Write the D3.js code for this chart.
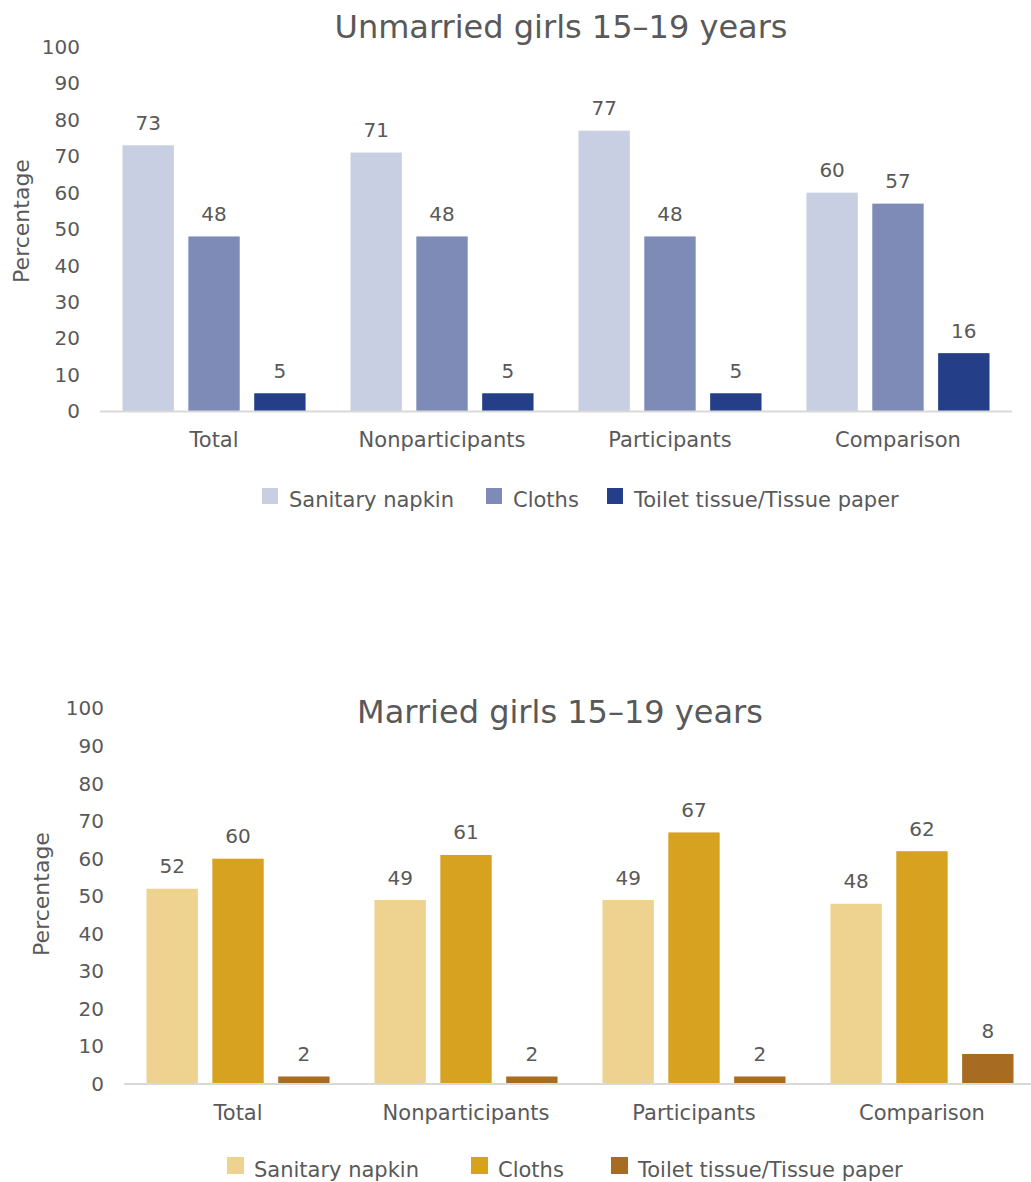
<!DOCTYPE html>
<html>
<head>
<meta charset="utf-8">
<script src="https://cdn.jsdelivr.net/npm/d3@7"></script>
<style>
  html, body { margin: 0; padding: 0; background: #ffffff; }
  svg { display: block; }
  text { font-family: "DejaVu Sans", "Noto Sans", sans-serif; fill: #595959; }
</style>
</head>
<body>
<svg id="chart" width="1031" height="1182"></svg>
<script>
// Menstrual absorbent used, by group (percent)
const categories = ["Total", "Nonparticipants", "Participants", "Comparison"];
const seriesNames = ["Sanitary napkin", "Cloths", "Toilet tissue/Tissue paper"];

const unmarriedNapkin = [73, 71, 77, 60];
const unmarriedCloths = [48, 48, 48, 57];
const unmarriedTissue = [5, 5, 5, 16];

const marriedNapkin = [52, 49, 49, 48];
const marriedCloths = [60, 61, 67, 62];
const marriedTissue = [2, 2, 2, 8];

const yTicks = [0, 10, 20, 30, 40, 50, 60, 70, 80, 90, 100];

const unmarriedColors = ["#c8cfe2", "#7d8bb6", "#243f88"];
const marriedColors = ["#edd290", "#d6a220", "#a76c21"];

const panels = [
  {
    title: "Unmarried girls 15\u201319 years",
    series: [unmarriedNapkin, unmarriedCloths, unmarriedTissue],
    colors: unmarriedColors,
    xRange: [100, 1012], yRange: [411.5, 46.8],
    titleX: 561, titleY: 38,
    yTitleX: 21, yTitleY: 221,
    legendTop: 488, legendX: [262, 486, 607], legendSize: 16
  },
  {
    title: "Married girls 15\u201319 years",
    series: [marriedNapkin, marriedCloths, marriedTissue],
    colors: marriedColors,
    xRange: [124, 1036], yRange: [1084, 708.5],
    titleX: 560, titleY: 723,
    yTitleX: 41, yTitleY: 894,
    legendTop: 1157, legendX: [227, 471, 611], legendSize: 17
  }
];

const svg = d3.select("#chart");

panels.forEach(p => {
  const g = svg.append("g");

  const x0 = d3.scaleBand()
    .domain(categories)
    .range(p.xRange)
    .paddingInner(0.197)
    .paddingOuter(0.0987);

  const x1 = d3.scaleBand()
    .domain(seriesNames)
    .range([0, x0.bandwidth()])
    .paddingInner(0.22);

  const y = d3.scaleLinear().domain([0, 100]).range(p.yRange);

  const color = d3.scaleOrdinal().domain(seriesNames).range(p.colors);

  // title
  g.append("text")
    .attr("x", p.titleX).attr("y", p.titleY)
    .attr("text-anchor", "middle")
    .style("font-size", "32px")
    .text(p.title);

  // y axis: labels only
  const yAxis = g.append("g")
    .attr("transform", `translate(${p.xRange[0]},0)`)
    .call(d3.axisLeft(y).tickValues(yTicks).tickSize(0).tickPadding(20));
  yAxis.select(".domain").remove();
  yAxis.selectAll("text")
    .style("font-size", "20px")
    .style("font-family", "\"DejaVu Sans\", sans-serif")
    .attr("fill", "#595959");

  // y axis title
  g.append("text")
    .attr("transform", `translate(${p.yTitleX},${p.yTitleY}) rotate(-90)`)
    .attr("text-anchor", "middle")
    .attr("dominant-baseline", "central")
    .style("font-size", "22px")
    .text("Percentage");

  // bars
  const rows = categories.map((c, i) => ({
    category: c,
    values: seriesNames.map((s, k) => ({ key: s, value: p.series[k][i] }))
  }));

  const groups = g.selectAll(".group")
    .data(rows)
    .join("g")
    .attr("class", "group")
    .attr("transform", d => `translate(${x0(d.category)},0)`);

  groups.selectAll("rect")
    .data(d => d.values)
    .join("rect")
    .attr("x", d => x1(d.key))
    .attr("y", d => y(d.value))
    .attr("width", x1.bandwidth())
    .attr("height", d => y(0) - y(d.value))
    .attr("fill", d => color(d.key));

  groups.selectAll(".value")
    .data(d => d.values)
    .join("text")
    .attr("class", "value")
    .attr("x", d => x1(d.key) + x1.bandwidth() / 2)
    .attr("y", d => y(d.value) - 15.5)
    .attr("text-anchor", "middle")
    .style("font-size", "20px")
    .text(d => d.value);

  // category axis with baseline
  const xAxis = g.append("g")
    .attr("transform", `translate(0,${y(0)})`)
    .call(d3.axisBottom(x0).tickSize(0).tickSizeOuter(0).tickPadding(21));
  xAxis.select(".domain")
    .attr("stroke", "#d9d9d9")
    .attr("stroke-width", 2)
    .attr("d", `M${p.xRange[0]},0H${p.xRange[1]}`);
  xAxis.selectAll("text")
    .style("font-size", "21px")
    .style("font-family", "\"DejaVu Sans\", sans-serif")
    .attr("fill", "#595959");

  // legend
  const legend = g.append("g");
  const items = legend.selectAll("g")
    .data(seriesNames)
    .join("g")
    .attr("transform", (d, i) => `translate(${p.legendX[i]},${p.legendTop})`);
  items.append("rect")
    .attr("width", p.legendSize)
    .attr("height", p.legendSize)
    .attr("fill", d => color(d));
  items.append("text")
    .attr("x", 27)
    .attr("y", p.legendSize + 2.5)
    .style("font-size", "21px")
    .text(d => d);
});
</script>
</body>
</html>
